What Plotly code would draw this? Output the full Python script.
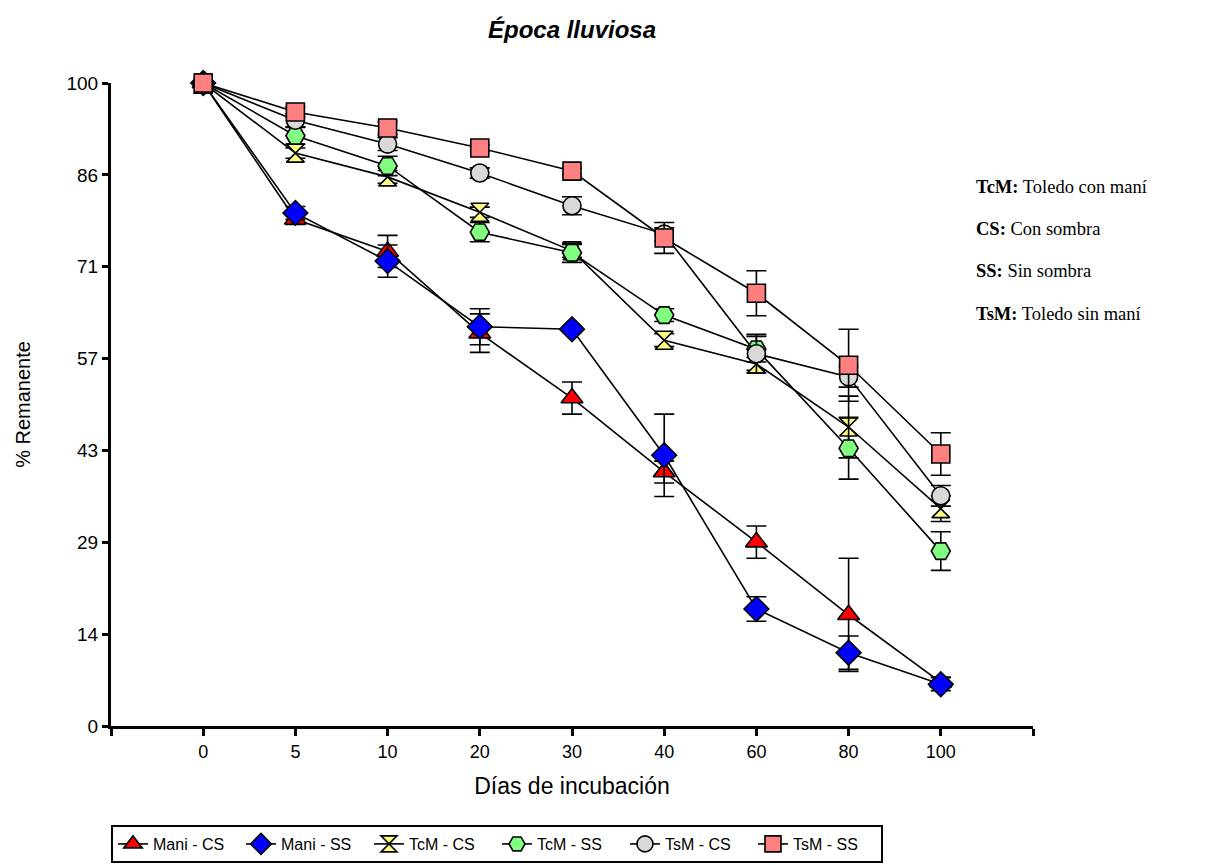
import plotly.graph_objects as go

days = ["0", "5", "10", "20", "30", "40", "60", "80", "100"]
xpos = [0, 1, 2, 3, 4, 5, 6, 7, 8]

mani_cs = [100, 78.8, 73.8, 61.1, 51.0, 39.5, 28.6, 17.3, 6.8]
mani_cs_err = [0.5, 0.8, 2.5, 3.0, 2.5, 1.7, 2.5, 8.8, 0.8]
mani_ss = [100, 79.8, 72.3, 62.1, 61.7, 42.1, 18.2, 11.4, 6.5]
mani_ss_err = [0.5, 1.0, 2.5, 2.8, 0.5, 6.4, 1.9, 2.6, 1.0]
tcm_cs = [100, 89.1, 85.4, 79.9, 73.9, 60.0, 56.3, 46.5, 33.8]
tcm_cs_err = [0.5, 0.8, 1.0, 0.8, 1.0, 1.0, 1.0, 4.8, 2.0]
tcm_ss = [100, 91.8, 87.1, 76.8, 73.6, 63.9, 58.6, 43.2, 27.2]
tcm_ss_err = [0.5, 1.3, 1.5, 1.5, 1.5, 1.0, 2.0, 4.8, 3.0]
tsm_cs = [100, 94.2, 90.5, 86.0, 80.9, 76.5, 57.9, 54.3, 35.8]
tsm_cs_err = [0.5, 1.0, 1.0, 0.8, 1.4, 1.0, 3.0, 1.6, 1.6]
tsm_ss = [100, 95.5, 93.0, 89.9, 86.3, 75.9, 67.3, 56.1, 42.3]
tsm_ss_err = [1.6, 0.8, 1.0, 0.5, 0.5, 2.4, 3.5, 5.6, 3.3]

series_names = ["Mani - CS", "Mani - SS", "TcM - CS", "TcM - SS", "TsM - CS", "TsM - SS"]
series_vals = [mani_cs, mani_ss, tcm_cs, tcm_ss, tsm_cs, tsm_ss]
series_errs = [mani_cs_err, mani_ss_err, tcm_cs_err, tcm_ss_err, tsm_cs_err, tsm_ss_err]
symbols = ["triangle-up", "diamond", "hourglass", "hexagon2", "circle", "square"]
colors = ["#FF0000", "#0000FF", "#FFFF80", "#80FF80", "#D9D9D9", "#FF8080"]
sizes = [19, 19, 18, 19, 18, 18]

ytick_vals = [0, 14.29, 28.57, 42.86, 57.14, 71.43, 85.71, 100]
ytick_text = ["0", "14", "29", "43", "57", "71", "86", "100"]

notes = [("TcM:", "Toledo con maní"), ("CS:", "Con sombra"),
         ("SS:", "Sin sombra"), ("TsM:", "Toledo sin maní")]

fig = go.Figure()
for name, vals, errs, sym, col, sz in zip(series_names, series_vals, series_errs,
                                          symbols, colors, sizes):
    fig.add_trace(go.Scatter(
        x=xpos, y=vals, name=name, mode="lines+markers",
        line=dict(color="black", width=1.6),
        marker=dict(symbol=sym, size=sz, color=col,
                    line=dict(color="black", width=1.6)),
        error_y=dict(type="data", array=errs, visible=True,
                     color="black", thickness=1.6, width=10),
        cliponaxis=False,
    ))

# page body has an 8px margin, so the figure is offset by 8px
W, H = 1223, 857
L, T, PW, PH = 103, 75, 922, 643

note_y_px = [187, 229, 271, 314]
for (b, t), ypx in zip(notes, note_y_px):
    fig.add_annotation(
        xref="paper", yref="paper", x=(974 - 111) / PW, y=(726 - ypx) / PH,
        xanchor="left", yanchor="middle",
        text=f"<b>{b}</b> {t}", showarrow=False,
        font=dict(family="Liberation Serif, Times New Roman, serif", size=18.5, color="black"),
    )

fig.update_layout(
    width=W, height=H,
    margin=dict(l=L, r=W - L - PW, t=T, b=H - T - PH),
    plot_bgcolor="white", paper_bgcolor="white",
    font=dict(family="Arial, Liberation Sans, sans-serif", color="black"),
    title=dict(text="<b><i>Época lluviosa</i></b>", x=0.5, xref="paper",
               y=1 - 22 / H, yref="container", xanchor="center", yanchor="middle",
               font=dict(size=24)),
    xaxis=dict(range=[-1, 9], tickvals=[-1] + xpos + [9], ticktext=[""] + days + [""],
               showline=True, linewidth=3, linecolor="black", ticks="outside",
               ticklen=7, tickwidth=3, tickcolor="black", showgrid=False, zeroline=False,
               tickfont=dict(size=18),
               title=dict(text="Días de incubación", font=dict(size=23), standoff=18)),
    yaxis=dict(range=[0, 100], tickvals=ytick_vals, ticktext=ytick_text,
               showline=True, linewidth=3, linecolor="black", ticks="outside",
               ticklen=6, tickwidth=3, tickcolor="black", showgrid=False, zeroline=False,
               tickfont=dict(size=19),
               title=dict(text="% Remanente", font=dict(size=20), standoff=31)),
    showlegend=True,
    legend=dict(orientation="h", x=0.0, xref="paper", yref="container",
                y=2 / H, xanchor="left", yanchor="bottom",
                bordercolor="black", borderwidth=2, bgcolor="white",
                font=dict(size=16), itemsizing="trace",
                entrywidth=83, entrywidthmode="pixels",
                tracegroupgap=0),
)

fig.write_html("out.html")
